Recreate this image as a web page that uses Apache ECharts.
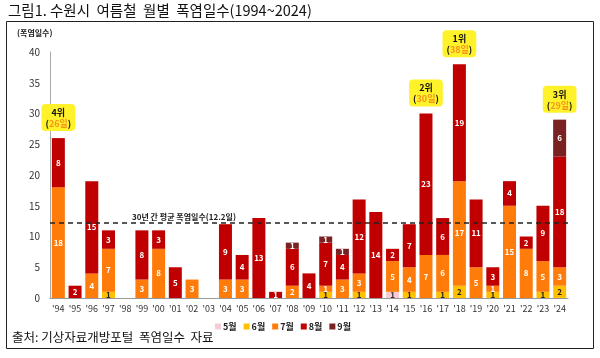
<!DOCTYPE html>
<html><head><meta charset="utf-8">
<script src="https://cdn.jsdelivr.net/npm/echarts@6/dist/echarts.min.js"></script>
<style>html,body{margin:0;padding:0;background:#fff}#c{width:600px;height:358px}</style>
</head><body><div id="c"></div>
<script>
const years = ["'94","'95","'96","'97","'98","'99","'00","'01","'02","'03","'04","'05","'06","'07","'08","'09","'10","'11","'12","'13","'14","'15","'16","'17","'18","'19","'20","'21","'22","'23","'24"];
const may  = [0,0,0,0,0,0,0,0,0,0,0,0,0,0,0,0,0,0,0,0,1,0,0,0,0,0,0,0,0,0,0];
const jun  = [0,0,0,1,0,0,0,0,0,0,0,0,0,0,0,0,1,0,1,0,0,1,0,1,2,0,1,0,0,1,2];
const jul  = [18,0,4,7,0,3,8,0,3,0,3,3,0,0,2,0,1,3,3,0,5,4,7,6,17,5,1,15,8,5,3];
const aug  = [8,2,15,3,0,8,3,5,0,0,9,4,13,1,6,4,7,4,12,14,2,7,23,6,19,11,3,4,2,9,18];
const sep  = [0,0,0,0,0,0,0,0,0,0,0,0,0,0,1,0,1,1,0,0,0,0,0,0,0,0,0,0,0,0,6];
const avgDays = 12.2;
const ranks = [{year:"'94", rank:"4위"},{year:"'16", rank:"2위"},{year:"'18", rank:"1위"},{year:"'24", rank:"3위"}];

const font = '"Noto Sans CJK KR", "Noto Sans", sans-serif';
const totals = years.map((y,i)=>may[i]+jun[i]+jul[i]+aug[i]+sep[i]);

function seg(name, data, color, labelColor){
  return {
    name, type:'bar', stack:'t', data, barWidth:13,
    itemStyle:{color},
    label:{show:true, position:'inside', color:labelColor, fontSize:8, fontWeight:'bold', fontFamily:font,
      formatter:p=>p.value>0?String(p.value):''},
    emphasis:{disabled:true}
  };
}
const series = [
  seg('5월', may, '#F8CBD4', '#333'),
  seg('6월', jun, '#FFC000', '#222'),
  seg('7월', jul, '#FF7C0A', '#fff'),
  seg('8월', aug, '#C00000', '#fff'),
  seg('9월', sep, '#7A2222', '#fff')
];
series[4].markPoint = {
  symbol:'circle', symbolSize:0,
  data: ranks.map(r=>{
    const i = years.indexOf(r.year);
    return {coord:[r.year, totals[i]], value:totals[i],
      label:{formatter:'{a|'+r.rank+'}\n{b|(}{c|'+totals[i]+'일}{b|)}'}};
  }),
  label:{show:true, position:'top', distance:7, backgroundColor:'#FFF22A', borderRadius:4, padding:[3,4,2,4],
    rich:{
      a:{fontSize:9, fontWeight:'bold', color:'#111', fontFamily:font, lineHeight:11, align:'center'},
      b:{fontSize:9, fontWeight:'bold', color:'#111', fontFamily:font, lineHeight:11},
      c:{fontSize:9, fontWeight:'bold', color:'#F7941D', fontFamily:font, lineHeight:11}
    }}
};
series[3].markLine = {
  silent:true, symbol:'none',
  data:[{yAxis:avgDays}],
  lineStyle:{type:[5,4], color:'#222', width:1.5},
  label:{show:true, position:'insideStartTop', formatter:'30년 간 평균 폭염일수('+avgDays+'일)',
    fontSize:8, fontWeight:'bold', color:'#222', fontFamily:font, padding:[0,0,0,80], distance:2}
};

const chart = echarts.init(document.getElementById('c'));
chart.setOption({
  animation:false,
  textStyle:{fontFamily:font},
  grid:{left:50, right:32, top:52, bottom:60},
  legend:{left:210, top:317, itemWidth:6, itemHeight:6, itemGap:7, icon:'rect',
    data:['5월','6월','7월','8월','9월'],
    textStyle:{fontSize:9, fontWeight:'bold', color:'#222', fontFamily:font, padding:[0,0,0,-3]}},
  xAxis:{type:'category', data:years,
    axisLine:{lineStyle:{color:'#999'}}, axisTick:{show:false},
    axisLabel:{fontSize:9, color:'#333', margin:6, interval:0}},
  yAxis:{type:'value', min:0, max:40, interval:5,
    axisLine:{show:true, lineStyle:{color:'#aaa'}}, axisTick:{show:false}, splitLine:{show:false},
    axisLabel:{fontSize:10, color:'#333', margin:10}},
  series,
  graphic:[
    {type:'text', left:8, top:3, style:{text:'그림1. 수원시  여름철  월별  폭염일수(1994~2024)', fontSize:14.5, fill:'#111', fontFamily:font}},
    {type:'rect', shape:{x:6.5, y:21.5, width:587, height:327}, style:{fill:'none', stroke:'#222', lineWidth:1}},
    {type:'text', left:17, top:29, style:{text:'(폭염일수)', fontSize:8, fontWeight:'bold', fill:'#222', fontFamily:font}},
    {type:'text', left:12, top:331, style:{text:'출처: 기상자료개방포털  폭염일수  자료', fontSize:12.5, fill:'#111', fontFamily:font}}
  ]
});
</script></body></html>
